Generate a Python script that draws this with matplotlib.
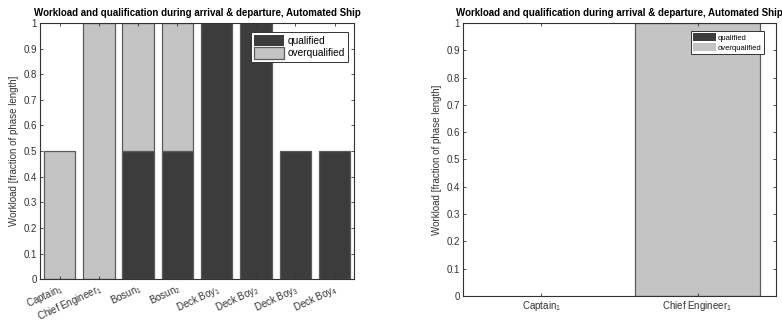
import numpy as np
import matplotlib
matplotlib.use('Agg')
import matplotlib.pyplot as plt

plt.rcParams.update({
    'font.family': 'Liberation Sans', 'font.size': 7,
    'mathtext.fontset': 'custom', 'mathtext.rm': 'Liberation Sans',
    'mathtext.it': 'Liberation Sans', 'mathtext.bf': 'Liberation Sans:bold',
})

# Crew members and workload split (fraction of phase length)
crew_left = ["Captain", "Chief Engineer", "Bosun", "Bosun",
             "Deck Boy", "Deck Boy", "Deck Boy", "Deck Boy"]
idx_left = [1, 1, 1, 2, 1, 2, 3, 4]
qualified_left = [0, 0, 0.5, 0.5, 1, 1, 0.5, 0.5]
overqualified_left = [0.5, 1, 0.5, 0.5, 0, 0, 0, 0]

crew_right = ["Captain", "Chief Engineer"]
idx_right = [1, 1]
qualified_right = [0, 0]
overqualified_right = [0, 1]

title = "Workload and qualification during arrival & departure, Automated Ship"
ylabel = "Workload [fraction of phase length]"

DARK = "#3c3c3c"
LIGHT = "#c4c4c4"
EDGE = "#5c5c5c"
AXC = "#333333"


def stack(ax, x, h, bottom, color, label):
    # zero-height segments get no outline
    h = np.asarray(h, float)
    lws = [0.9 if v > 0 else 0 for v in h]
    ax.bar(x, h, 0.8, bottom=bottom, color=color, edgecolor=EDGE,
           linewidth=lws, label=label)


def draw(ax, names, idx, q, o, rot, legend_fs, legend_box):
    x = np.arange(1, len(names) + 1)
    stack(ax, x, q, 0, DARK, "qualified")
    stack(ax, x, o, q, LIGHT, "overqualified")
    ax.set_xlim(0.5, len(names) + 0.5)
    ax.set_ylim(0, 1)
    ax.set_yticks(np.arange(0, 1.01, 0.1))
    ax.set_yticklabels(["0"] + [f"{v:.1f}" for v in np.arange(0.1, 0.95, 0.1)] + ["1"])
    ax.set_xticks(x)
    labels = [f"{n}$_{{{i}}}$" for n, i in zip(names, idx)]
    if rot:
        ax.set_xticklabels(labels, rotation=rot, ha="right", rotation_mode="anchor")
    else:
        ax.set_xticklabels(labels)
    ax.tick_params(direction="in", top=True, right=True, length=2.5,
                   width=0.6, colors=AXC, labelsize=7, pad=2)
    for s in ax.spines.values():
        s.set_color(AXC)
        s.set_linewidth(0.8)
    ax.set_ylabel(ylabel, fontsize=7, color=AXC, labelpad=3)
    ax.set_title(title, fontsize=7, fontweight="bold", pad=5)
    leg = ax.legend(loc="upper right", bbox_to_anchor=legend_box,
                    fontsize=legend_fs, fancybox=False, framealpha=1,
                    edgecolor=AXC, handlelength=3, handleheight=1.3,
                    handletextpad=0.3, borderpad=0.3, labelspacing=0.15)
    leg.get_frame().set_linewidth(0.7)


fig = plt.figure(figsize=(7.82, 3.28), dpi=100)
ax1 = fig.add_axes([0.051, 0.149, 0.402, 0.781])
ax2 = fig.add_axes([0.592, 0.098, 0.400, 0.832])

draw(ax1, crew_left, idx_left, qualified_left, overqualified_left, 25, 7.3,
     (0.995, 0.985))
draw(ax2, crew_right, idx_right, qualified_right, overqualified_right, 0, 5.5,
     (0.975, 0.985))

fig.savefig("out.png", dpi=100)
